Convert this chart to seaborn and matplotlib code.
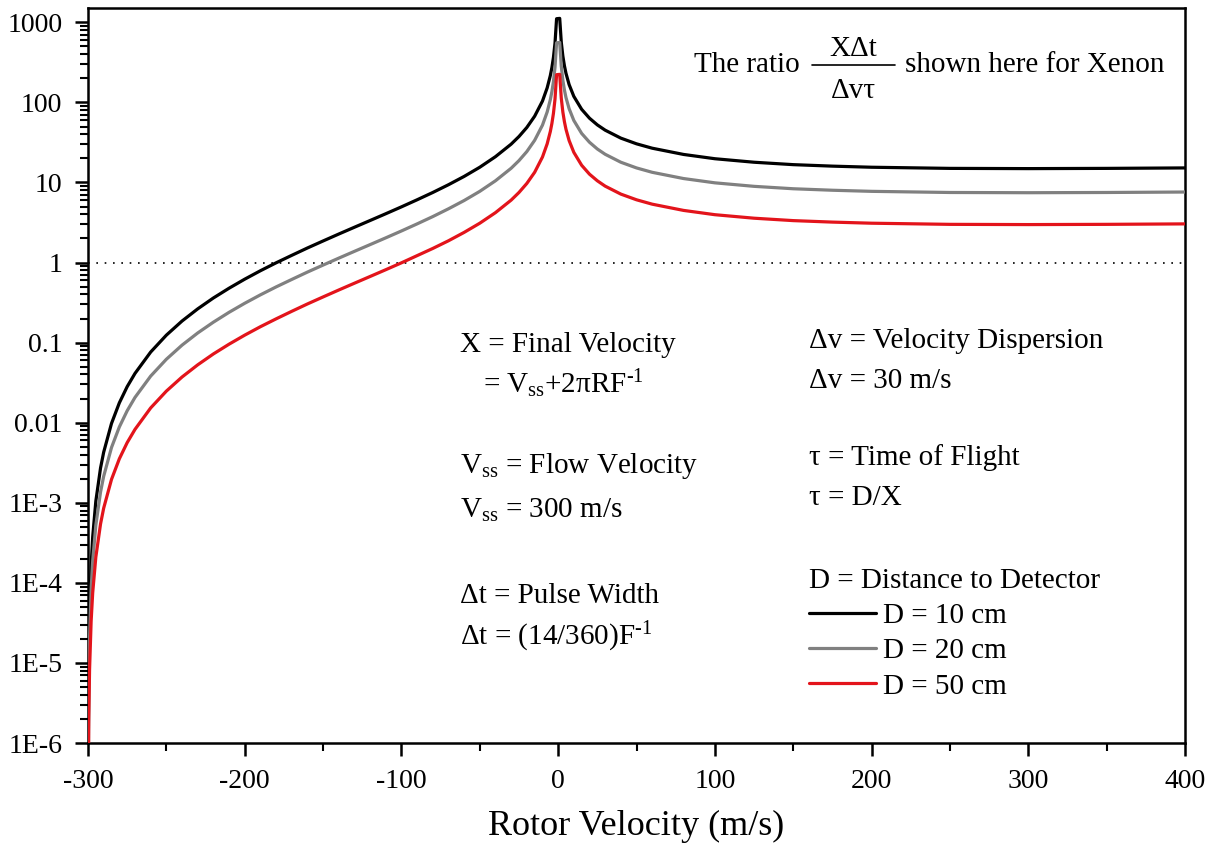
import matplotlib
matplotlib.use("Agg")
import matplotlib.pyplot as plt
import matplotlib.ticker as mticker
from matplotlib.lines import Line2D
import seaborn as sns
import pandas as pd
import numpy as np

# valores (razão X.dt / (dv.tau) para o xenônio)
rotor_v = [-299.9, -299.5, -299, -298, -297, -295, -292, -290, -285, -280,
           -275, -270, -260, -250, -240, -230, -220, -210, -200, -190,
           -180, -170, -160, -150, -140, -130, -120, -110, -100, -90,
           -80, -70, -60, -50, -40, -30, -25, -20, -15, -10,
           -7, -5, -4, -3, -2, -1, 1, 2, 3, 4,
           5, 7, 10, 15, 20, 25, 30, 40, 50, 60,
           80, 100, 125, 150, 175, 200, 250, 300, 350, 400]

ratio_d10 = [4.1e-7, 1.04e-5, 4.15e-5, 1.66e-4, 3.76e-4, 1.05e-3, 2.72e-3, 4.28e-3, 9.79e-3, 0.0177,
             0.0282, 0.0413, 0.0763, 0.124, 0.186, 0.264, 0.361, 0.478, 0.62, 0.79,
             0.992, 1.23, 1.52, 1.86, 2.27, 2.76, 3.35, 4.07, 4.96, 6.08,
             7.50, 9.37, 11.9, 15.5, 21.0, 30.1, 37.5, 48.6, 67.2, 104,
             152, 216, 272, 365, 551, 1110, 1120, 566, 380, 287,
             231, 167, 119, 82.0, 63.5, 52.4, 45.0, 35.8, 30.4, 26.8,
             22.4, 19.8, 17.9, 16.7, 16.0, 15.5, 15.0, 14.9, 15.0, 15.2]

ratio_d20 = [2.05e-7, 5.2e-6, 2.08e-5, 8.3e-5, 1.88e-4, 5.25e-4, 1.36e-3, 2.14e-3, 4.9e-3, 8.85e-3,
             0.0141, 0.0207, 0.0382, 0.062, 0.093, 0.132, 0.18, 0.239, 0.31, 0.395,
             0.496, 0.615, 0.76, 0.93, 1.135, 1.38, 1.675, 2.035, 2.48, 3.04,
             3.75, 4.69, 5.95, 7.75, 10.5, 15.05, 18.75, 24.3, 33.6, 52,
             76, 108, 136, 182, 275, 555, 560, 283, 190, 143,
             115, 83.5, 59.5, 41.0, 31.8, 26.2, 22.5, 17.9, 15.2, 13.4,
             11.2, 9.9, 8.95, 8.35, 8.0, 7.75, 7.5, 7.45, 7.5, 7.6]

ratio_d50 = [8.2e-8, 2.08e-6, 8.3e-6, 3.32e-5, 7.52e-5, 2.1e-4, 5.44e-4, 8.56e-4, 1.96e-3, 3.54e-3,
             5.64e-3, 8.26e-3, 0.0153, 0.0248, 0.0372, 0.0528, 0.0722, 0.0956, 0.124, 0.158,
             0.198, 0.246, 0.304, 0.372, 0.454, 0.552, 0.67, 0.814, 0.992, 1.22,
             1.5, 1.87, 2.38, 3.1, 4.2, 6.02, 7.5, 9.72, 13.4, 20.8,
             30.4, 43.2, 54.4, 73, 110, 222, 224, 113, 76, 57.4,
             46.2, 33.4, 23.8, 16.4, 12.7, 10.5, 9.0, 7.16, 6.08, 5.36,
             4.48, 3.96, 3.58, 3.34, 3.2, 3.1, 3.0, 2.98, 3.0, 3.04]

labels = ["D = 10 cm", "D = 20 cm", "D = 50 cm"]
colors = ["#000000", "#808080", "#e3141b"]

y_ticks = [1e-6, 1e-5, 1e-4, 1e-3, 0.01, 0.1, 1, 10, 100, 1000]
y_tick_labels = ["1E-6", "1E-5", "1E-4", "1E-3", "0.01", "0.1", "1", "10", "100", "1000"]
x_ticks = [-300, -200, -100, 0, 100, 200, 300, 400]

sns.set_style("ticks")
plt.rcParams['font.family'] = ['Liberation Serif', 'DejaVu Serif']
plt.rcParams['mathtext.fontset'] = 'custom'
plt.rcParams['mathtext.rm'] = 'Liberation Serif'
plt.rcParams['mathtext.it'] = 'Liberation Serif:italic'
plt.rcParams['mathtext.bf'] = 'Liberation Serif:bold'
plt.rcParams['axes.unicode_minus'] = False
plt.rcParams['text.color'] = 'black'
plt.rcParams['axes.labelcolor'] = 'black'

# tabela longa para o seaborn
df = pd.concat([
    pd.DataFrame({'v': rotor_v, 'ratio': vals, 'D': lab})
    for vals, lab in zip([ratio_d10, ratio_d20, ratio_d50], labels)
])

W, H = 1225, 846
fig = plt.figure(figsize=(W / 100, H / 100), dpi=100)
ax = fig.add_axes([88 / W, 103 / H, 1097 / W, 735 / H])

ax.axhline(1, color='black', lw=1.2, ls=(0, (1, 4)), zorder=1)
sns.lineplot(data=df, x='v', y='ratio', hue='D', palette=dict(zip(labels, colors)),
             linewidth=2.3, estimator=None, ax=ax, zorder=3)

ax.set_yscale('log')
ax.set_xlim(-300, 400)
ax.set_ylim(1e-6, 1510)
ax.set_yticks(y_ticks)
ax.set_yticklabels(y_tick_labels)
ax.yaxis.set_minor_locator(mticker.LogLocator(base=10, subs=np.arange(2, 10), numticks=100))
ax.yaxis.set_minor_formatter(mticker.NullFormatter())
ax.set_xticks(x_ticks)
ax.xaxis.set_minor_locator(mticker.MultipleLocator(50))

ax.tick_params(which='major', direction='out', length=9.5, width=1.8, labelsize=20, pad=9,
               colors='black')
ax.tick_params(which='minor', direction='out', length=5.5, width=1.5, colors='black')
for s in ax.spines.values():
    s.set_linewidth(1.8)
    s.set_color('black')

ax.set_xlabel('Rotor Velocity (m/s)', fontsize=26, labelpad=12)
ax.set_ylabel('')


def ftext(px, py, s, **kw):
    kw.setdefault('ha', 'left')
    return fig.text(px / W, 1 - py / H, s, fontsize=21, va='baseline', **kw)


# título com a fração desenhada à mão
ftext(800, 72, 'The ratio', ha='right')
ftext(853, 56, 'XΔt', ha='center')
ftext(853, 98, 'Δvτ', ha='center')
fig.add_artist(Line2D([812 / W, 895 / W], [1 - 65 / H, 1 - 65 / H], color='black', lw=1.2))
ftext(905, 72, 'shown here for Xenon')

ftext(460, 352, 'X = Final Velocity')
ftext(483, 393, r'= $\mathrm{V_{ss}}$+2πRF$^{\text{-1}}$')
ftext(460, 473, r'$\mathrm{V_{ss}}$ = Flow Velocity')
ftext(460, 518, r'$\mathrm{V_{ss}}$ = 300 m/s')
ftext(460, 603, 'Δt = Pulse Width')
ftext(460, 645, r'Δt = (14/360)F$^{\text{-1}}$')

ftext(809, 348, 'Δv = Velocity Dispersion')
ftext(809, 388, 'Δv = 30 m/s')
ftext(809, 465, 'τ = Time of Flight')
ftext(809, 505, 'τ = D/X')

leg = ax.legend(title='D = Distance to Detector', loc='upper left',
                bbox_to_anchor=(809 / W, 1 - 568 / H), bbox_transform=fig.transFigure,
                frameon=False, fontsize=21, title_fontsize=21, alignment='left',
                borderpad=0, borderaxespad=0, handlelength=2.3, handletextpad=0.25,
                labelspacing=0.3)

fig.savefig('out.png', dpi=100)
